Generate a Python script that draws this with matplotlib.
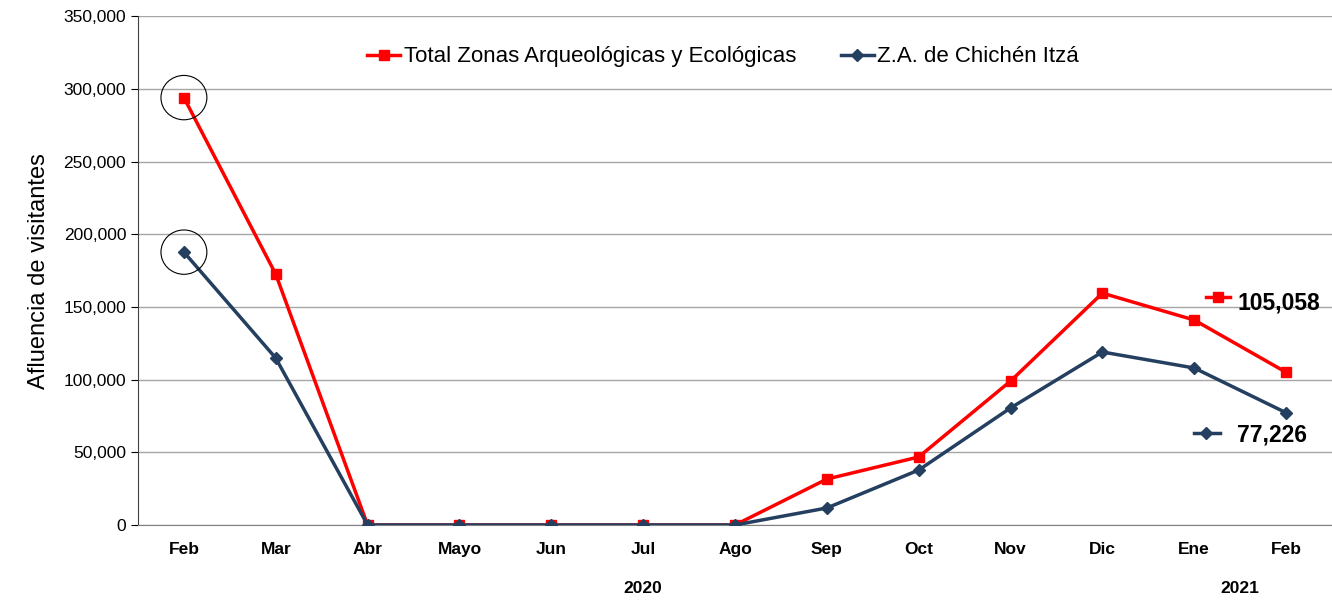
import matplotlib
matplotlib.use('Agg')
import matplotlib.pyplot as plt
from matplotlib.patches import Ellipse
from matplotlib.ticker import FuncFormatter

plt.rcParams['font.family'] = ['Liberation Sans', 'DejaVu Sans']

months = ['Feb', 'Mar', 'Abr', 'Mayo', 'Jun', 'Jul', 'Ago', 'Sep', 'Oct', 'Nov', 'Dic', 'Ene', 'Feb']
total = [294000, 172500, 0, 0, 0, 0, 0, 31600, 46800, 99000, 159500, 141000, 105058]
chichen = [187700, 114800, 0, 0, 0, 0, 0, 11700, 37800, 80500, 119000, 108000, 77226]
years = ['2020', '2021']

RED = '#ff0000'
NAVY = '#243f60'

fig = plt.figure(figsize=(13.32, 6), dpi=100)
ax = fig.add_axes([0.1036, 0.125, 0.8964, 0.848])
x = list(range(len(months)))

ax.plot(x, total, '-s', color=RED, lw=2.5, ms=7, label='Total Zonas Arqueológicas y Ecológicas', zorder=3)
ax.plot(x, chichen, '-D', color=NAVY, lw=2.5, ms=6, label='Z.A. de Chichén Itzá', zorder=3)

ax.set_xlim(-0.5, len(months) - 0.5)
ax.set_ylim(0, 350000)
ax.set_yticks(range(0, 350001, 50000))
ax.yaxis.set_major_formatter(FuncFormatter(lambda v, p: f'{int(v):,}'))
ax.grid(axis='y', color='#a6a6a6', lw=1)
ax.set_axisbelow(True)
ax.set_xticks(x)
ax.set_xticklabels(months, fontweight='bold', fontsize=12.5)
ax.tick_params(axis='x', length=0, pad=12)
ax.tick_params(axis='y', labelsize=12.5, length=5, direction='out', colors='black')
for s in ['top', 'right']:
    ax.spines[s].set_visible(False)
ax.spines['bottom'].set_color('#808080')
ax.spines['left'].set_color('#404040')
ax.set_ylabel('Afluencia de visitantes', fontsize=17, labelpad=10)

# circles around first points
for v in (total[0], chichen[0]):
    ax.add_patch(Ellipse((0, v), 0.5, 30500, fill=False, ec='black', lw=0.8, zorder=4))

# end labels
ax.plot([11.13, 11.39], [157000, 157000], '-', color=RED, lw=2.5, clip_on=False)
ax.plot([11.26], [157000], 's', color=RED, ms=7, clip_on=False)
ax.text(11.47, 153000, f'{total[-1]:,}', fontsize=16.5, fontweight='bold', va='center')
ax.plot([11.0, 11.28], [63500, 63500], '-', color=NAVY, lw=2.5, clip_on=False)
ax.plot([11.13], [63500], 'D', color=NAVY, ms=6, clip_on=False)
ax.text(11.47, 62000, f'{chichen[-1]:,}', fontsize=16.5, fontweight='bold', va='center')

# year labels
ax.text(5, -0.125, years[0], transform=ax.get_xaxis_transform(), ha='center', va='center',
        fontsize=12.5, fontweight='bold')
ax.text(11.5, -0.125, years[1], transform=ax.get_xaxis_transform(), ha='center', va='center',
        fontsize=12.5, fontweight='bold')

ax.legend(loc='upper center', bbox_to_anchor=(0.49, 0.98), ncol=2, frameon=False,
          fontsize=16, handlelength=1.5, handletextpad=0.15, columnspacing=2.0)

fig.savefig('out.png', dpi=100)
